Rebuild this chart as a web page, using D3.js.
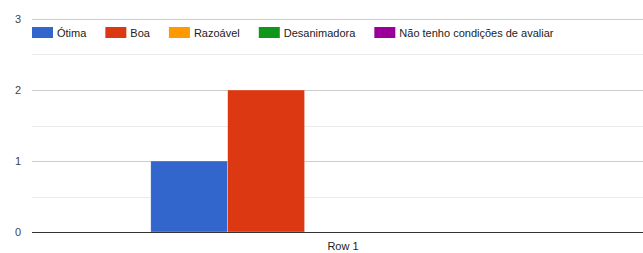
<!DOCTYPE html>
<html><head><meta charset="utf-8">
<script src="https://cdn.jsdelivr.net/npm/d3@7"></script>
<style>body{margin:0;background:#fff}svg{display:block;font-family:"Liberation Sans",Arial,sans-serif}</style>
</head><body><svg id="c" width="643" height="253"></svg>
<script>
const categories = ["Row 1"];
const seriesNames = ["Ótima", "Boa", "Razoável", "Desanimadora", "Não tenho condições de avaliar"];
const seriesColors = ["#3366cc", "#dc3912", "#ff9900", "#109618", "#990099"];
const values = [[1, 2, 0, 0, 0]]; // per category, per series
const yTicks = [0, 1, 2, 3];
const yMinor = [0.5, 1.5, 2.5];

const svg = d3.select("#c");
const L = 32, R = 654, T = 19, B = 232;
const y = d3.scaleLinear().domain([0, 3]).range([B, T]);
const x0 = d3.scaleBand().domain(categories).range([L, R]).paddingInner(0.382).paddingOuter(0.191);
const x1 = d3.scaleBand().domain(seriesNames).range([0, x0.bandwidth()]);

// gridlines
svg.append("g").selectAll("line").data(yMinor).join("line")
  .attr("x1", L).attr("x2", 643).attr("y1", d => Math.round(y(d)) + 0.5).attr("y2", d => Math.round(y(d)) + 0.5)
  .attr("stroke", "#ebebeb");
svg.append("g").selectAll("line").data(yTicks.filter(d => d > 0)).join("line")
  .attr("x1", L).attr("x2", 643).attr("y1", d => Math.round(y(d)) + 0.5).attr("y2", d => Math.round(y(d)) + 0.5)
  .attr("stroke", "#cccccc");

// y labels
svg.append("g").selectAll("text").data(yTicks).join("text")
  .attr("x", 21).attr("y", d => y(d)).attr("dy", "0.35em").attr("text-anchor", "end")
  .attr("font-size", 11).attr("fill", "#444").text(d => d);

// bars
const g = svg.append("g");
categories.forEach((c, ci) => {
  g.selectAll(null).data(seriesNames.map((s, si) => ({ s, si, v: values[ci][si] })).filter(d => d.v > 0)).join("rect")
    .attr("x", d => x0(c) + x1(d.s)).attr("width", x1.bandwidth())
    .attr("y", d => y(d.v)).attr("height", d => y(0) - y(d.v))
    .attr("fill", d => seriesColors[d.si]);
});
// separator between adjacent bars
g.selectAll("rect").attr("stroke", "#fff").attr("stroke-opacity", 0.6).attr("stroke-width", 0.5);

// baseline
svg.append("line").attr("x1", L).attr("x2", 643).attr("y1", Math.round(y(0)) + 0.5).attr("y2", Math.round(y(0)) + 0.5).attr("stroke", "#333");

// x labels
svg.append("g").selectAll("text").data(categories).join("text")
  .attr("x", d => x0(d) + x0.bandwidth() / 2).attr("y", 250).attr("text-anchor", "middle")
  .attr("font-size", 11).attr("fill", "#222").text(d => d);

// legend
const leg = svg.append("g");
let lx = 32;
seriesNames.forEach((s, i) => {
  leg.append("rect").attr("x", lx).attr("y", 27).attr("width", 21).attr("height", 11).attr("fill", seriesColors[i]);
  const t = leg.append("text").attr("x", lx + 25).attr("y", 33).attr("dy", "0.35em")
    .attr("font-size", 11).attr("fill", "#222").text(s);
  lx += 25 + t.node().getComputedTextLength() + 19;
});
</script></body></html>
